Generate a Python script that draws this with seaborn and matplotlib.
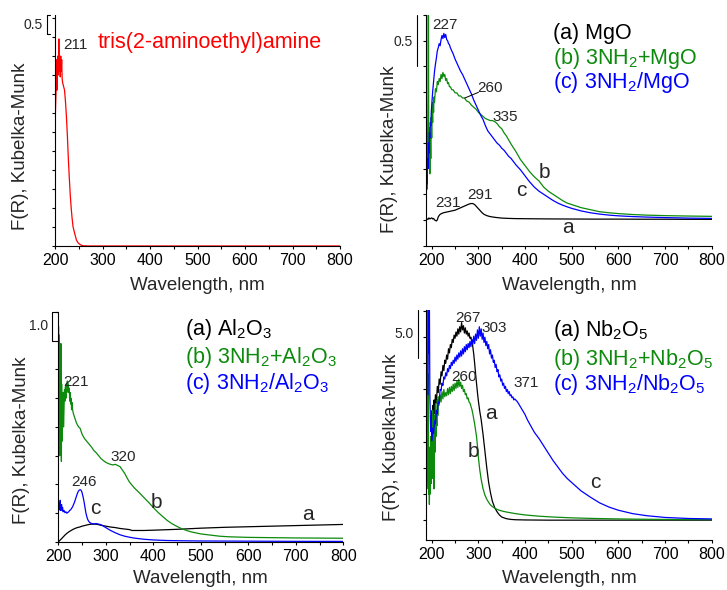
import matplotlib
matplotlib.use("Agg")
import matplotlib.pyplot as plt
import seaborn as sns
import numpy as np

# ---- panel 1: tris(2-aminoethyl)amine ----
tris_x = [200, 201, 202, 203, 204, 205, 206, 207, 208, 209, 210, 211, 212, 213, 214, 215, 216, 218, 220,
          222, 224, 226, 228, 230, 232, 234, 236, 238, 240, 242, 245, 248, 252, 256, 260, 270, 300, 400,
          500, 600, 700, 800]
tris_y = [3.1, 3.6, 4.0, 4.9, 4.1, 4.6, 5.0, 4.5, 5.45, 4.6, 4.9, 4.45, 5.0, 4.6, 4.9, 4.4, 4.3, 4.2, 4.1,
          3.8, 3.4, 2.9, 2.3, 1.8, 1.35, 1.0, 0.72, 0.5, 0.4, 0.3, 0.16, 0.09, 0.045, 0.015, 0.005, 0.0, 0.0,
          0.0, 0.0, 0.0, 0.0, 0.0]

# ---- panel 2: MgO ----
mgo_a_x = [188, 190, 192, 194, 196, 198, 200, 202, 204, 206, 208, 210, 212, 214, 217, 220, 225, 230, 235,
           240, 245, 250, 255, 260, 265, 270, 275, 280, 284, 288, 292, 296, 300, 304, 308, 312, 318, 325,
           333, 340, 350, 365, 380, 400, 450, 500, 550, 600, 650, 700, 750, 800]
mgo_a_y = [0.0, 0.01, 0.005, 0.02, 0.01, 0.015, 0.02, 0.01, 0.015, 0.0, -0.005, -0.01, 0.0, 0.03, 0.05,
           0.06, 0.07, 0.075, 0.08, 0.085, 0.09, 0.095, 0.105, 0.115, 0.125, 0.135, 0.145, 0.155, 0.16,
           0.16, 0.15, 0.13, 0.11, 0.09, 0.07, 0.055, 0.042, 0.033, 0.027, 0.023, 0.018, 0.015, 0.013,
           0.012, 0.01, 0.009, 0.008, 0.008, 0.007, 0.007, 0.006, 0.006]
mgo_b_x = [188, 189, 190, 191, 192, 192.5, 193, 193.5, 194, 195, 196, 197, 198, 199, 200, 201, 202, 203,
           204, 205, 206, 208, 210, 212, 214, 216, 218, 220, 222, 224, 226, 228, 230, 232, 234, 236, 238,
           240, 243, 246, 250, 254, 258, 262, 266, 270, 275, 280, 285, 290, 295, 300, 305, 310, 315, 320,
           325, 330, 335, 340, 345, 350, 355, 360, 370, 380, 390, 400, 410, 420, 430, 440, 450, 460, 470,
           480, 490, 500, 520, 540, 560, 580, 600, 630, 660, 700, 750, 800]
mgo_b_y = [0.25, 0.5, 0.3, 0.7, 1.2, 2.3, 2.3, 1.0, 0.55, 0.9, 0.45, 0.85, 0.6, 1.0, 0.8, 1.1, 0.95, 1.15,
           1.05, 1.2, 1.15, 1.28, 1.25, 1.35, 1.32, 1.38, 1.35, 1.42, 1.38, 1.44, 1.40, 1.42, 1.36, 1.38,
           1.33, 1.34, 1.30, 1.30, 1.27, 1.27, 1.24, 1.24, 1.21, 1.21, 1.19, 1.19, 1.16, 1.15, 1.12, 1.10,
           1.08, 1.05, 1.03, 1.01, 0.99, 0.98, 0.97, 0.97, 0.96, 0.94, 0.91, 0.89, 0.85, 0.82, 0.74, 0.67,
           0.59, 0.53, 0.47, 0.42, 0.38, 0.32, 0.28, 0.25, 0.22, 0.19, 0.165, 0.15, 0.12, 0.10, 0.08, 0.07,
           0.062, 0.053, 0.047, 0.042, 0.038, 0.035]
mgo_c_x = [188, 189, 190, 191, 192, 193, 194, 195, 196, 197, 198, 199, 200, 202, 204, 206, 208, 210, 212,
           214, 216, 218, 220, 222, 224, 226, 228, 230, 232, 234, 236, 238, 240, 243, 246, 250, 254, 258,
           262, 266, 270, 275, 280, 285, 290, 295, 300, 305, 310, 315, 320, 325, 330, 335, 340, 345, 350,
           355, 360, 365, 370, 375, 380, 390, 400, 410, 420, 430, 440, 450, 460, 470, 480, 490, 500, 520,
           540, 560, 580, 600, 630, 660, 700, 750, 800]
mgo_c_y = [0.26, 0.45, 0.35, 0.6, 0.5, 0.75, 0.65, 0.85, 0.8, 0.95, 0.92, 1.05, 1.12, 1.25, 1.35, 1.45,
           1.52, 1.58, 1.65, 1.68, 1.72, 1.70, 1.76, 1.80, 1.77, 1.82, 1.78, 1.81, 1.76, 1.75, 1.72, 1.71,
           1.68, 1.65, 1.62, 1.57, 1.53, 1.49, 1.45, 1.42, 1.38, 1.33, 1.28, 1.23, 1.17, 1.12, 1.07, 1.02,
           0.98, 0.92, 0.87, 0.84, 0.81, 0.78, 0.75, 0.73, 0.70, 0.68, 0.65, 0.62, 0.60, 0.57, 0.54, 0.49,
           0.43, 0.37, 0.32, 0.28, 0.25, 0.22, 0.19, 0.165, 0.145, 0.128, 0.113, 0.088, 0.07, 0.057, 0.047,
           0.04, 0.033, 0.028, 0.023, 0.018, 0.015]

# ---- panel 3: Al2O3 ----
al_a_x = [200, 203, 206, 210, 214, 218, 222, 226, 230, 235, 240, 245, 250, 255, 260, 265, 270, 275, 280,
          285, 290, 300, 310, 320, 330, 340, 350, 355, 360, 380, 400, 450, 500, 550, 600, 650, 700, 750, 800]
al_a_y = [0.0, 0.05, 0.1, 0.17, 0.24, 0.3, 0.35, 0.39, 0.43, 0.47, 0.5, 0.52, 0.55, 0.57, 0.59, 0.61,
          0.62, 0.62, 0.62, 0.6, 0.58, 0.55, 0.52, 0.5, 0.47, 0.45, 0.43, 0.40, 0.40, 0.40, 0.41, 0.44,
          0.48, 0.51, 0.53, 0.55, 0.57, 0.59, 0.61]
al_b_x = [200, 200.5, 201, 201.5, 202, 202.5, 203, 203.5, 204, 204.5, 205, 205.5, 206, 206.5, 207, 207.5,
          208, 209, 210, 211, 212, 213, 214, 215, 216, 217, 218, 219, 220, 221, 222, 223, 224, 225, 226,
          227, 228, 229, 230, 232, 234, 236, 238, 240, 243, 246, 250, 255, 260, 265, 270, 275, 280, 285,
          290, 295, 300, 305, 310, 315, 320, 325, 330, 335, 340, 345, 350, 355, 360, 370, 380, 390, 400,
          410, 420, 430, 440, 450, 460, 470, 480, 500, 520, 540, 560, 600, 650, 700, 750, 800]
al_b_y = [2.6, 7.5, 3.5, 7.2, 4.0, 6.8, 3.0, 6.9, 4.5, 6.5, 3.2, 6.9, 5.0, 2.8, 5.5, 3.5, 4.8, 4.2, 5.2,
          4.0, 4.6, 5.3, 4.9, 5.4, 5.0, 5.5, 5.2, 5.6, 5.3, 5.5, 5.2, 5.35, 4.9, 5.2, 4.8, 5.0, 4.6, 4.85,
          4.6, 4.45, 4.35, 4.25, 4.15, 4.08, 4.0, 3.95, 3.75, 3.6, 3.5, 3.4, 3.3, 3.18, 3.1, 3.0, 2.9,
          2.83, 2.77, 2.73, 2.7, 2.68, 2.7, 2.66, 2.62, 2.5, 2.38, 2.22, 2.08, 1.98, 1.88, 1.72, 1.55,
          1.38, 1.2, 1.03, 0.88, 0.74, 0.63, 0.54, 0.46, 0.4, 0.35, 0.28, 0.24, 0.2, 0.18, 0.16, 0.15,
          0.14, 0.135, 0.13]
al_c_x = [200, 201, 202, 203, 204, 205, 206, 207, 208, 209, 210, 212, 214, 216, 218, 220, 222, 224, 226,
          228, 230, 232, 234, 236, 238, 240, 242, 244, 246, 248, 250, 252, 254, 256, 258, 260, 262, 264,
          266, 270, 275, 280, 285, 290, 295, 300, 305, 310, 315, 320, 330, 340, 350, 360, 380, 400, 430,
          460, 500, 600, 700, 800]
al_c_y = [1.4, 1.1, 1.35, 1.15, 1.45, 1.1, 1.25, 1.3, 1.1, 1.2, 1.05, 1.1, 1.02, 1.05, 1.0, 1.03, 1.05,
          1.1, 1.12, 1.17, 1.22, 1.3, 1.38, 1.48, 1.58, 1.68, 1.76, 1.8, 1.82, 1.8, 1.72, 1.58, 1.42, 1.22,
          1.02, 0.88, 0.78, 0.72, 0.68, 0.64, 0.63, 0.64, 0.62, 0.6, 0.55, 0.5, 0.45, 0.4, 0.36, 0.32,
          0.25, 0.2, 0.165, 0.135, 0.095, 0.07, 0.05, 0.042, 0.035, 0.028, 0.022, 0.02]

# ---- panel 4: Nb2O5 ----
nb_a_x = [200, 201, 202, 203, 204, 205, 206, 208, 210, 212, 214, 216, 218, 220, 222, 224, 226, 228, 230,
          232, 234, 236, 238, 240, 242, 244, 246, 248, 250, 252, 254, 256, 258, 260, 262, 264, 266, 268,
          270, 272, 274, 276, 278, 280, 282, 284, 286, 288, 290, 292, 294, 296, 298, 300, 303, 306, 310,
          314, 318, 322, 326, 330, 335, 340, 345, 350, 360, 370, 380, 400, 450, 500, 600, 700, 800]
nb_a_y = [9.0, 10.5, 8.8, 11.0, 9.5, 11.5, 10.2, 12.0, 11.2, 12.8, 12.2, 13.5, 13.0, 14.2, 13.8, 14.8,
          14.3, 15.3, 15.0, 15.8, 15.4, 16.4, 16.0, 16.8, 16.5, 17.3, 17.0, 17.7, 17.4, 18.0, 17.6, 18.3,
          17.8, 18.5, 18.0, 18.9, 18.2, 18.6, 17.9, 18.4, 17.8, 18.1, 17.6, 17.9, 17.4, 17.5, 17.0, 16.6,
          15.9, 15.0, 14.0, 13.1, 12.2, 11.4, 10.4, 9.6, 8.2, 6.6, 5.0, 3.6, 2.6, 1.8, 1.2, 0.8, 0.5, 0.3,
          0.14, 0.07, 0.04, 0.02, 0.0, 0.0, 0.0, 0.0, 0.0]
nb_b_x = [188, 189, 190, 190.5, 191, 191.5, 192, 192.5, 193, 193.5, 194, 195, 196, 197, 198, 199, 200,
          201, 202, 203, 204, 205, 206, 207, 208, 209, 210, 211, 212, 213, 214, 216, 218, 220, 222, 224,
          226, 228, 230, 232, 234, 236, 238, 240, 242, 244, 246, 248, 250, 252, 254, 256, 258, 260, 262,
          264, 266, 268, 270, 272, 274, 276, 278, 280, 282, 284, 286, 288, 290, 292, 294, 296, 298, 300,
          303, 306, 310, 314, 318, 322, 326, 330, 335, 340, 345, 350, 360, 370, 380, 400, 430, 460, 500,
          550, 600, 650, 700, 750, 800]
nb_b_y = [0.5, 4.0, 21.0, 8.0, 20.5, 5.0, 14.0, 3.0, 10.0, 2.5, 7.0, 1.5, 6.0, 2.5, 8.0, 3.5, 9.0, 4.0,
          10.5, 5.5, 9.5, 3.0, 10.0, 6.5, 11.0, 8.0, 10.5, 9.0, 11.5, 10.0, 11.8, 11.0, 12.0, 11.3, 12.3,
          11.6, 12.5, 11.8, 12.2, 11.9, 12.6, 12.0, 12.7, 12.1, 12.8, 12.3, 13.0, 12.4, 13.1, 12.6, 13.3,
          12.7, 13.5, 12.8, 13.2, 12.6, 12.9, 12.3, 12.5, 12.0, 12.1, 11.6, 11.7, 11.3, 11.2, 10.9, 10.6,
          10.2, 9.7, 9.2, 8.6, 8.0, 7.1, 6.0, 4.8, 3.9, 3.0, 2.4, 2.0, 1.7, 1.45, 1.3, 1.15, 1.03, 0.95,
          0.88, 0.78, 0.7, 0.62, 0.5, 0.38, 0.3, 0.22, 0.16, 0.12, 0.09, 0.07, 0.06, 0.05]
nb_c_x = [192, 193, 194, 195, 196, 197, 198, 199, 200, 202, 204, 206, 208, 210, 212, 214, 216, 218, 220,
          222, 224, 226, 228, 230, 232, 234, 236, 238, 240, 242, 244, 246, 248, 250, 252, 254, 256, 258,
          260, 262, 264, 266, 268, 270, 272, 274, 276, 278, 280, 282, 284, 286, 288, 290, 292, 294, 296,
          298, 300, 302, 304, 306, 308, 310, 312, 314, 316, 318, 320, 322, 324, 326, 328, 330, 332, 334,
          336, 338, 340, 342, 344, 346, 348, 350, 352, 354, 356, 358, 360, 362, 364, 366, 368, 370, 372,
          374, 376, 378, 380, 384, 388, 392, 396, 400, 405, 410, 415, 420, 430, 440, 450, 460, 470, 480,
          490, 500, 520, 540, 560, 580, 600, 630, 660, 700, 750, 800]
nb_c_y = [12.0, 21.0, 16.0, 21.0, 12.0, 10.0, 8.5, 9.5, 7.6, 8.8, 8.3, 9.5, 9.2, 10.5, 10.2, 11.3, 11.2,
          12.5, 12.4, 13.1, 12.9, 13.7, 13.5, 14.1, 13.8, 14.5, 14.2, 14.8, 14.5, 15.1, 14.8, 15.3, 15.0,
          15.6, 15.2, 15.8, 15.4, 16.0, 15.6, 16.2, 15.7, 16.4, 15.9, 16.6, 16.1, 16.8, 16.3, 16.9, 16.5,
          17.1, 16.6, 17.3, 16.8, 17.6, 16.9, 17.8, 17.2, 18.2, 17.4, 18.5, 17.6, 18.3, 17.3, 17.9, 17.0,
          17.5, 16.7, 17.1, 16.4, 16.8, 15.9, 16.3, 15.5, 15.8, 15.1, 15.3, 14.6, 14.9, 14.2, 14.4, 13.7,
          13.9, 13.3, 13.5, 12.9, 13.1, 12.6, 12.8, 12.3, 12.5, 12.1, 12.3, 11.9, 12.0, 11.7, 11.8, 11.5,
          11.6, 11.5, 11.3, 11.0, 10.7, 10.4, 10.1, 9.6, 9.2, 8.8, 8.4, 7.8, 7.1, 6.4, 5.7, 5.1, 4.5, 4.0,
          3.6, 2.8, 2.2, 1.65, 1.25, 0.95, 0.63, 0.43, 0.26, 0.16, 0.12]

BLACK = "black"
GREEN = "#0c8a0c"
BLUE = "#0000ff"
RED = "#ff0000"

sns.set_style("ticks")
plt.rcParams['font.family'] = ['Liberation Sans', 'DejaVu Sans']
plt.rcParams['mathtext.fontset'] = 'custom'
plt.rcParams['mathtext.rm'] = 'Liberation Sans'
plt.rcParams['mathtext.default'] = 'regular'

fig = plt.figure(figsize=(7.27, 5.9), dpi=100)
ax1 = fig.add_axes([0.0757, 0.5831, 0.3920, 0.3915])
ax2 = fig.add_axes([0.5860, 0.5831, 0.3930, 0.3915])
ax3 = fig.add_axes([0.0802, 0.0814, 0.3920, 0.3898])
ax4 = fig.add_axes([0.5860, 0.0847, 0.3930, 0.3898])


def curve(ax, x, y, color):
    sns.lineplot(x=x, y=y, ax=ax, color=color, linewidth=0.9, estimator=None, sort=False, legend=False)


def style_axes(ax, xmin, ylim, ystep, ylab_x, ylab_y, xlab_px):
    ax.set_xlim(xmin, 800)
    ax.set_ylim(*ylim)
    ax.set_xticks(np.arange(200, 801, 100))
    ax.set_xticks(np.arange(250, 800, 100), minor=True)
    yt = np.arange(0, ylim[1] + 1e-6, ystep)
    if ylim[0] < 0:
        yt = np.concatenate([np.arange(-ystep, ylim[0] - 1e-6, -ystep)[::-1], yt])
        yt = yt[yt >= ylim[0] - 0.01 * ystep]
    ax.set_yticks(yt)
    ax.set_yticklabels([])
    ax.tick_params(axis='both', which='both', direction='out', length=2, width=0.8, pad=2.8,
                   colors='black', labelsize=11.5)
    for s in ['top', 'right']:
        ax.spines[s].set_visible(False)
    for s in ['left', 'bottom']:
        ax.spines[s].set_linewidth(0.8)
        ax.spines[s].set_color('black')
    ax.set_xlabel('Wavelength, nm', fontsize=13.5)
    ax.set_ylabel('F(R), Kubelka-Munk', fontsize=13.5)
    ax.yaxis.set_label_coords(ylab_x, ylab_y)
    # x label baseline sits xlab_px pixels under the axis
    ax.xaxis.label.set_verticalalignment('baseline')
    h = ax.get_position().height * fig.get_figheight() * fig.dpi
    ax.xaxis.set_label_coords(0.5, -xlab_px / h)


def scale_bar(ax, x, y0, y1, label, ly, caps=False, top_cap=0.011):
    tr = ax.get_yaxis_transform()
    ax.plot([x, x], [y0, y1], transform=tr, color='black', lw=0.8, clip_on=False)
    if caps:
        ax.plot([x, x + top_cap], [y1, y1], transform=tr, color='black', lw=0.8, clip_on=False)
        ax.plot([x, x + 0.011], [y0, y0], transform=tr, color='black', lw=0.8, clip_on=False)
    ax.text(x - 0.014, ly, label, transform=tr, ha='right', va='center', fontsize=10)


# panel 1
curve(ax1, tris_x, tris_y, RED)
style_axes(ax1, 200, (0, 6.08), 0.5, -0.092, 0.433, 44)
scale_bar(ax1, -0.028, 5.58, 6.08, '0.5', 5.82, caps=True)
ax1.text(217, 5.29, '211', ha='left', va='center', fontsize=11)
ax1.text(0.150, 0.883, 'tris(2-aminoethyl)amine', transform=ax1.transAxes, color=RED,
         ha='left', va='center', fontsize=15.5)

# panel 2
curve(ax2, mgo_a_x, mgo_a_y, BLACK)
curve(ax2, mgo_b_x, mgo_b_y, GREEN)
curve(ax2, mgo_c_x, mgo_c_y, BLUE)
style_axes(ax2, 187.8, (-0.254, 2.0), 0.25, -0.098, 0.42, 44)
scale_bar(ax2, -0.0315, 1.5, 2.0, '0.5', 1.74)
for txt, x, y in [('227', 228.5, 1.90), ('260', 325, 1.29), ('335', 357, 1.0),
                  ('231', 235.6, 0.166), ('291', 303.5, 0.244)]:
    ax2.text(x, y, txt, ha='center', va='center', fontsize=11)
ax2.plot([271, 300], [1.19, 1.245], color='black', lw=0.7)
for txt, x, y in [('a', 492, -0.07), ('b', 441, 0.46), ('c', 393, 0.29)]:
    ax2.text(x, y, txt, ha='center', va='center', fontsize=15)
for txt, col, y in [('(a) MgO', BLACK, 0.922), ('(b) 3NH$_2$+MgO', GREEN, 0.81),
                    ('(c) 3NH$_2$/MgO', BLUE, 0.706)]:
    ax2.text(0.444, y, txt, transform=ax2.transAxes, color=col, ha='left', va='center', fontsize=15.5)

# panel 3
curve(ax3, al_a_x, al_a_y, BLACK)
curve(ax3, al_b_x, al_b_y, GREEN)
curve(ax3, al_c_x, al_c_y, BLUE)
style_axes(ax3, 200, (0, 8.0), 1.0, -0.10, 0.443, 41)
scale_bar(ax3, -0.022, 7.0, 8.0, '1.0', 7.5, caps=True, top_cap=0.022)
for txt, x, y in [('221', 237.6, 5.57), ('320', 335.8, 2.96), ('246', 254.7, 2.09)]:
    ax3.text(x, y, txt, ha='center', va='center', fontsize=11)
for txt, x, y in [('a', 726, 0.94), ('b', 406, 1.39), ('c', 278, 1.18)]:
    ax3.text(x, y, txt, ha='center', va='center', fontsize=15)
for txt, col, y in [('(a) Al$_2$O$_3$', BLACK, 0.922), ('(b) 3NH$_2$+Al$_2$O$_3$', GREEN, 0.80),
                    ('(c) 3NH$_2$/Al$_2$O$_3$', BLUE, 0.691)]:
    ax3.text(0.446, y, txt, transform=ax3.transAxes, color=col, ha='left', va='center', fontsize=15.5)

# panel 4
curve(ax4, nb_a_x, nb_a_y, BLACK)
curve(ax4, nb_b_x, nb_b_y, GREEN)
curve(ax4, nb_c_x, nb_c_y, BLUE)
style_axes(ax4, 187.8, (-1.9, 20.1), 2.5, -0.091, 0.448, 43)
scale_bar(ax4, -0.028, 15.5, 20.1, '5.0', 17.8)
for txt, x, y in [('267', 277.8, 19.3), ('303', 333.5, 18.4), ('371', 402, 13.1), ('260', 269, 13.65)]:
    ax4.text(x, y, txt, ha='center', va='center', fontsize=11)
for txt, x, y in [('a', 327, 10.2), ('b', 288.5, 6.6), ('c', 550, 3.56)]:
    ax4.text(x, y, txt, ha='center', va='center', fontsize=15)
for txt, col, y in [('(a) Nb$_2$O$_5$', BLACK, 0.913), ('(b) 3NH$_2$+Nb$_2$O$_5$', GREEN, 0.787),
                    ('(c) 3NH$_2$/Nb$_2$O$_5$', BLUE, 0.678)]:
    ax4.text(0.444, y, txt, transform=ax4.transAxes, color=col, ha='left', va='center', fontsize=15.5)

fig.savefig('out.png', dpi=100)
